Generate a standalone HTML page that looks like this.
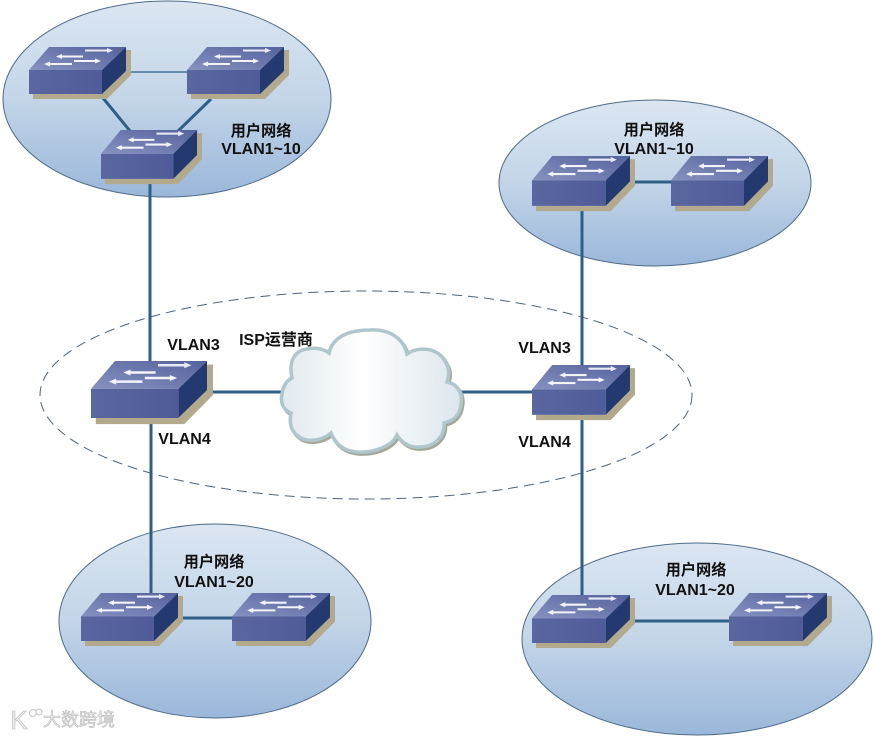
<!DOCTYPE html>
<html>
<head>
<meta charset="utf-8">
<style>
html,body{margin:0;padding:0;background:#fff;}
svg{display:block;filter:blur(.35px);}
text{font-family:"Liberation Sans","Noto Sans CJK SC",sans-serif;font-weight:bold;font-size:16px;fill:#111;text-anchor:middle;}
text.c{font-size:15.2px;}
</style>
</head>
<body>
<svg width="874" height="736" viewBox="0 0 874 736" xmlns="http://www.w3.org/2000/svg">
<defs>
<linearGradient id="bub" x1="0" y1="0" x2="0" y2="1">
<stop offset="0" stop-color="#dbe6f1"/>
<stop offset="0.5" stop-color="#c3d5e8"/>
<stop offset="1" stop-color="#9ab7da"/>
</linearGradient>
<linearGradient id="top" x1="0" y1="1" x2="1" y2="0">
<stop offset="0" stop-color="#8792c0"/>
<stop offset="1" stop-color="#55629d"/>
</linearGradient>
<linearGradient id="front" x1="0" y1="0" x2="1" y2="0">
<stop offset="0" stop-color="#5a669f"/>
<stop offset="1" stop-color="#4f5c99"/>
</linearGradient>
<linearGradient id="cl" x1="0" y1="0" x2="1" y2="0">
<stop offset="0" stop-color="#dfe9ee"/>
<stop offset="0.45" stop-color="#ffffff"/>
<stop offset="1" stop-color="#dbe6ec"/>
</linearGradient>
<g id="sw">
<polygon points="4,47 4,52 78,52 102,28 102,3 97,3 97,24 73,47" fill="#b3a98c"/>
<polygon points="0,23 73,23 97,0 20,0" fill="url(#top)"/>
<polygon points="0,23 73,23 73,47 0,47" fill="url(#front)"/>
<polygon points="73,23 97,0 97,24 73,47" fill="#24396f"/>
<polygon points="33,8.5 54,8.5 54,10.5 33,10.5 33,12 27,9.5 33,7" fill="#f2f4fa"/>
<polygon points="56,2.5 78,2.5 78,1 84,3.5 78,6 78,4.5 56,4.5" fill="#e8ebf6"/>
<polygon points="45,13 66,13 66,11.5 72,14 66,16.5 66,15 45,15" fill="#f2f4fa"/>
<polygon points="21,16 43,16 43,18 21,18 21,19.5 15,17 21,14.5" fill="#f2f4fa"/>
</g>
</defs>

<rect width="874" height="736" fill="#fff"/>

<!-- bubbles -->
<ellipse cx="167" cy="99" rx="164" ry="98" fill="url(#bub)" stroke="#4f6c88" stroke-width="1"/>
<ellipse cx="655" cy="183" rx="156" ry="83" fill="url(#bub)" stroke="#4f6c88" stroke-width="1"/>
<ellipse cx="215" cy="621" rx="156" ry="97" fill="url(#bub)" stroke="#4f6c88" stroke-width="1"/>
<ellipse cx="697" cy="639" rx="175" ry="96" fill="url(#bub)" stroke="#4f6c88" stroke-width="1"/>
<ellipse cx="366" cy="395" rx="326" ry="104" fill="none" stroke="#4f6478" stroke-width="1" stroke-dasharray="10 6"/>

<!-- links -->
<g fill="none" stroke="#2f5f85" stroke-width="3">
<line x1="150" y1="180" x2="150" y2="361"/>
<line x1="151" y1="418" x2="151" y2="594"/>
<line x1="582" y1="205" x2="582" y2="366"/>
<line x1="582" y1="414" x2="582" y2="596"/>
<line x1="207" y1="392" x2="282" y2="392"/>
<line x1="460" y1="392" x2="532" y2="392"/>
<line x1="630" y1="182" x2="672" y2="182"/>
<line x1="178" y1="618" x2="233" y2="618"/>
<line x1="632" y1="621" x2="730" y2="621"/>
<line x1="103" y1="98" x2="130" y2="131"/>
<line x1="211" y1="99" x2="177" y2="132"/>
</g>
<line x1="126" y1="72" x2="188" y2="72" stroke="#2f5f85" stroke-width="1.2"/>

<!-- switches -->
<use href="#sw" transform="translate(29,47)"/>
<use href="#sw" transform="translate(187,47)"/>
<use href="#sw" transform="translate(101,130) scale(0.99,1.04)"/>
<use href="#sw" transform="translate(532,156) scale(1.01,1.06)"/>
<use href="#sw" transform="translate(671,156) scale(1,1.06)"/>
<use href="#sw" transform="translate(91,361) scale(1.196,1.213)"/>
<use href="#sw" transform="translate(532,365) scale(1.01,1.06)"/>
<use href="#sw" transform="translate(81,593) scale(1,1.02)"/>
<use href="#sw" transform="translate(232,593) scale(1.01,1.02)"/>
<use href="#sw" transform="translate(532,595) scale(1.01,1.02)"/>
<use href="#sw" transform="translate(729,593) scale(1.01,1.02)"/>

<!-- cloud -->
<path transform="translate(1.5,2)" d="M292 378 C289 365 292 351 307 349 C315 347 324 349 329 353 C333 336 350 330 370 330 C388 329 403 337 407 354 C418 346 439 347 446 363 C450 370 449 376 447 382 C458 384 463 394 461 404 C460 415 453 421 444 423 C445 437 434 447 420 447 C410 448 402 443 397 435 C392 446 375 453 357 452 C344 451 335 444 331 433 C322 441 306 443 298 436 C291 431 289 423 291 413 C283 410 280 402 282 394 C283 386 286 381 292 378 Z" fill="none" stroke="#a5a796" stroke-width="3.5"/>
<path d="M292 378 C289 365 292 351 307 349 C315 347 324 349 329 353 C333 336 350 330 370 330 C388 329 403 337 407 354 C418 346 439 347 446 363 C450 370 449 376 447 382 C458 384 463 394 461 404 C460 415 453 421 444 423 C445 437 434 447 420 447 C410 448 402 443 397 435 C392 446 375 453 357 452 C344 451 335 444 331 433 C322 441 306 443 298 436 C291 431 289 423 291 413 C283 410 280 402 282 394 C283 386 286 381 292 378 Z" fill="url(#cl)" stroke="#afc6cd" stroke-width="3.5"/>

<!-- labels -->
<text x="193.5" y="350">VLAN3</text>
<text x="184.5" y="444">VLAN4</text>
<text x="544.5" y="353">VLAN3</text>
<text x="544.5" y="447">VLAN4</text>
<text x="276" y="345">ISP运营商</text>
<text class="c" x="261" y="136">用户网络</text>
<text x="261" y="154">VLAN1~10</text>
<text class="c" x="654" y="135">用户网络</text>
<text x="654" y="154">VLAN1~10</text>
<text class="c" x="214" y="567">用户网络</text>
<text x="214" y="587">VLAN1~20</text>
<text class="c" x="696" y="575">用户网络</text>
<text x="695" y="595">VLAN1~20</text>

<!-- watermark -->
<text x="79" y="726" style="font-size:18px;fill:#ececec;stroke:#b8b8b8;stroke-width:.6px;font-weight:normal">大数跨境</text>
<text x="19" y="729" style="font-size:26px;fill:#ececec;stroke:#b8b8b8;stroke-width:.6px;font-weight:normal">K</text>
<circle cx="33" cy="713" r="3.5" fill="#fff" stroke="#c4c4c4"/>
<circle cx="39" cy="712" r="3" fill="#fff" stroke="#c4c4c4"/>
</svg>
</body>
</html>
